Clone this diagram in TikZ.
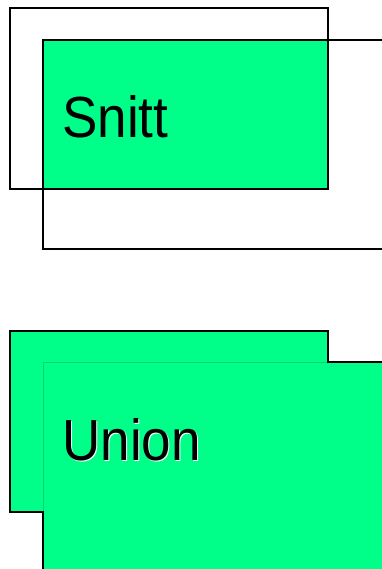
\documentclass[tikz,border=0pt]{standalone}
\usepackage{fontspec}
\setmainfont{Liberation Sans}
\definecolor{setgreen}{RGB}{0,255,136}
\definecolor{edgegreen}{RGB}{0,215,115}
\begin{document}
\begin{tikzpicture}[x=1pt,y=-1pt,
  outline/.style={draw=black,line width=1.6pt},
  label/.style={font=\fontsize{58}{60}\selectfont,anchor=base west,inner sep=0pt,xscale=0.915}]
\useasboundingbox (0,0) rectangle (381,569);
% Intersection (Snitt)
\fill[setgreen] (43,40) rectangle (328,189);
\draw[outline] (10,8) rectangle (328,189);
\draw[outline] (400,40) -- (43,40) -- (43,249) -- (400,249);
\node[label] (snitt) at (62,138) {Snitt};
% Union
\fill[setgreen] (10,331) -- (328,331) -- (328,362) -- (400,362) -- (400,600) -- (43,600) -- (43,512) -- (10,512) -- cycle;
\draw[edgegreen,line width=0.6pt] (43,512) -- (43,362) -- (328,362);
\draw[outline] (43,600) -- (43,512) -- (10,512) -- (10,331) -- (328,331) -- (328,362) -- (400,362);
\node[label,white] at (63,461) {Union};
\node[label] (union) at (62,460) {Union};
\end{tikzpicture}
\end{document}
